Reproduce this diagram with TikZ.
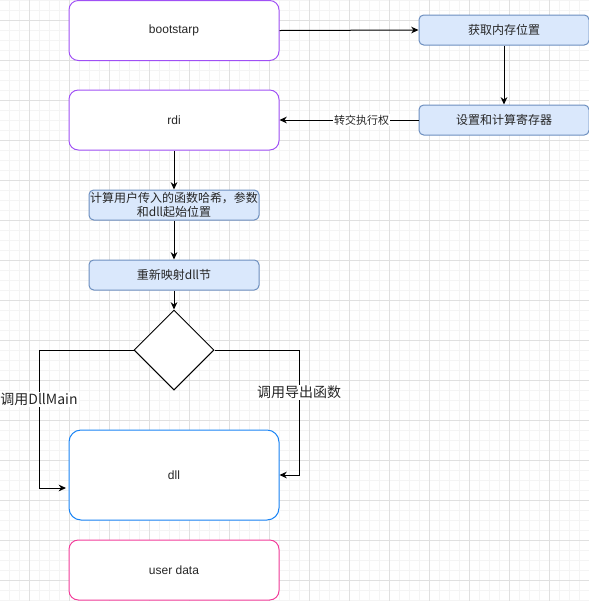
\documentclass[tikz,border=0pt]{standalone}
\usepackage{fontspec}
\setmainfont{Liberation Sans}
\newfontfamily\cjk{Noto Sans CJK SC}
\usetikzlibrary{arrows.meta,shapes.geometric}

\tikzset{
    bigbox/.style={draw, fill=white, line width=0.75pt, rounded corners=7pt,
        minimum width=157.5pt, minimum height=45pt, inner sep=1pt,
        text=textColour, font=\fontsize{9}{11}\selectfont},
    stepbox/.style={draw=stepBorder, fill=stepFill, line width=0.75pt, rounded corners=3.5pt,
        minimum width=127.5pt, minimum height=22.5pt, inner sep=0.5pt, align=center,
        text=textColour, font=\cjk\fontsize{9}{11}\selectfont},
    choicebox/.style={draw, fill=white, diamond, line width=0.75pt,
        minimum width=60pt, minimum height=60pt, inner sep=0pt},
    flow/.style={draw=black, line width=0.75pt, -{Stealth[length=5.5pt,width=5pt]}},
    edgelabel/.style={fill=white, inner sep=1pt, text=textColour},
}

\begin{document}
\begin{tikzpicture}[x=0.75pt, y=-0.75pt]
    \definecolor{minorColour}{HTML}{F4F4F4}
    \definecolor{majorColour}{HTML}{E0E0E0}
    \definecolor{textColour}{HTML}{262626}
    \definecolor{stepFill}{HTML}{DAE8FC}
    \definecolor{stepBorder}{HTML}{6C8EBF}
    \definecolor{bootColour}{HTML}{A050F5}
    \definecolor{dllColour}{HTML}{1A84F5}
    \definecolor{dataColour}{HTML}{F23C9A}

    \useasboundingbox (0,0) rectangle (589,601);

    % Grid
    \foreach \gx in {9,19,...,589}
        \draw[minorColour, line width=0.75pt] (\gx,0) -- (\gx,601);
    \foreach \gy in {0,10,...,600}
        \draw[minorColour, line width=0.75pt] (0,\gy) -- (589,\gy);
    \foreach \gx in {29,69,...,589}
        \draw[majorColour, line width=0.75pt] (\gx,0) -- (\gx,601);
    \foreach \gy in {20,60,...,600}
        \draw[majorColour, line width=0.75pt] (0,\gy) -- (589,\gy);

    % Loader boxes
    \node[bigbox, draw=bootColour] (boot) at (174,30.5) {bootstarp};
    \node[bigbox, draw=bootColour] (rdi) at (174,120) {rdi};
    \node[stepbox] (mem) at (504,30) {获取内存位置};
    \node[stepbox] (regs) at (504,120) {设置和计算寄存器};
    \node[stepbox] (hash) at (174,205) {计算用户传入的函数哈希，参数\\和dll起始位置};
    \node[stepbox] (remap) at (174,275) {重新映射dll节};
    \node[choicebox] (choice) at (174,350) {};

    % Memory layout
    \node[bigbox, draw=dllColour, minimum height=67.5pt, rounded corners=9pt] (dll) at (174,475) {dll};
    \node[bigbox, draw=dataColour] (data) at (174,570) {user data};

    % Flow
    \draw[flow] (boot.east) -- (mem.west);
    \draw[flow] (mem.south) -- (regs.north);
    \draw[flow] (regs.west) -- node[pos=0.41, edgelabel, font=\cjk\fontsize{8.25}{10}\selectfont] {转交执行权} (rdi.east);
    \draw[flow] (rdi.south) -- (hash.north);
    \draw[flow] (hash.south) -- (remap.north);
    \draw[flow] (remap.south) -- (choice.north);

    % Branches into the dll
    \coordinate (lbend) at (39,350);
    \coordinate (mainIn) at (66,488);
    \coordinate (rbend) at (299,350);
    \draw[flow] (choice.west) -- (lbend) |- node[pos=0.18, edgelabel, font=\cjk\fontsize{10.5}{12}\selectfont] {调用DllMain} (mainIn);
    \draw[flow] (choice.east) -- (rbend) |- node[pos=0.17, edgelabel, font=\cjk\fontsize{10.5}{12}\selectfont] {调用导出函数} (dll.east);

\end{tikzpicture}
\end{document}
